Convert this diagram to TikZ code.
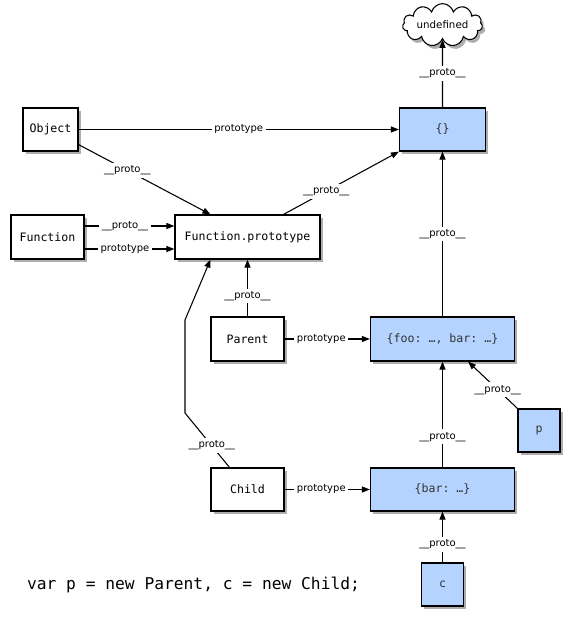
\documentclass[tikz,border=0pt]{standalone}
\usepackage{fontspec}
\setmainfont{DejaVu Sans}
\setmonofont{DejaVu Sans Mono}
\usetikzlibrary{shapes.symbols,shadows,arrows.meta}
\definecolor{objblue}{RGB}{180,211,255}
\tikzset{
  shad/.style={drop shadow={shadow xshift=2pt, shadow yshift=-2.5pt, opacity=0.45, fill=black!70}},
  box/.style={draw=black, line width=0.9pt, fill=white, shad, inner sep=0pt,
    font=\fontsize{8.7}{10}\ttfamily},
  obj/.style={box, fill=objblue, text=black!80},
  sz/.style 2 args={minimum width=#1*0.75pt, minimum height=#2*0.75pt},
  lbl/.style={fill=white, inner sep=2pt, font=\fontsize{7.5}{9}\selectfont},
  arr/.style={line width=0.8pt, -{Triangle[length=6pt,width=4.5pt]}},
}
\begin{document}
\begin{tikzpicture}[x=0.75pt,y=-0.75pt]
\useasboundingbox (0,0) rectangle (572,622);
% nodes
\node[cloud, cloud puffs=11, aspect=2.6, draw, fill=white, line width=0.8pt,
  minimum width=60pt, minimum height=24pt, inner sep=0pt, shad,
  font=\fontsize{7.7}{9}\selectfont] (undef) at (442.5,25) {undefined};
\node[box, sz={55}{43}] (object) at (50.5,129.5) {Object};
\node[obj, sz={86}{43}] (empty) at (442.5,129.5) {\{\}};
\node[box, sz={73}{44}] (function) at (47.5,237) {Function};
\node[box, sz={145}{44}] (fproto) at (247.5,237) {Function.prototype};
\node[box, sz={73}{44}] (parent) at (247.5,339) {Parent};
\node[obj, sz={144}{44}] (pproto) at (442.5,339) {\{foo: …, bar: …\}};
\node[obj, sz={42}{43}] (p) at (539,430.5) {p};
\node[box, sz={73}{43}] (child) at (247.5,489.5) {Child};
\node[obj, sz={144}{43}] (cproto) at (442.5,489.5) {\{bar: …\}};
\node[obj, sz={42}{43}] (c) at (442.5,584.5) {c};
\node[font=\fontsize{12.2}{14}\ttfamily, inner sep=0pt] (code) at (193.5,585) {var p = new Parent, c = new Child;};
% connectors
\draw[arr] (empty.north) -- node[lbl]{\_\_proto\_\_} (undef.south);
\draw[arr] (object.east) -- node[lbl]{prototype} (empty.west);
\draw[arr] ([yshift=5.25pt]object.south east) -- node[lbl,pos=0.37]{\_\_proto\_\_} ([xshift=-27.75pt]fproto.north);
\draw[arr] ([yshift=8.25pt]function.east) -- node[lbl,pos=0.45]{\_\_proto\_\_} ([yshift=8.25pt]fproto.west);
\draw[arr] ([yshift=-9pt]function.east) -- node[lbl,pos=0.45]{prototype} ([yshift=-9pt]fproto.west);
\draw[arr] ([xshift=27pt]fproto.north) -- node[lbl,pos=0.37]{\_\_proto\_\_} (empty.south west);
\draw[arr] (pproto.north) -- node[lbl]{\_\_proto\_\_} (empty.south);
\draw[arr] (parent.north) -- node[lbl,pos=0.36]{\_\_proto\_\_} (fproto.south);
\draw[arr] (parent.east) -- node[lbl,pos=0.43]{prototype} (pproto.west);
\draw[arr] (cproto.north) -- node[lbl,pos=0.29]{\_\_proto\_\_} (pproto.south);
\draw[arr] (p.north west) -- node[lbl,pos=0.4]{\_\_proto\_\_} ([xshift=-35.25pt]pproto.south east);
\draw[arr] (child.east) -- node[lbl,pos=0.43]{prototype} (cproto.west);
\draw[arr] (c.north) -- node[lbl,pos=0.35]{\_\_proto\_\_} (cproto.south);
\coordinate (k1) at (185,413);
\coordinate (k2) at (185,320);
\draw[arr] ([xshift=-13.5pt]child.north) -- node[lbl,pos=0.4]{\_\_proto\_\_} (k1) -- (k2) -- ([xshift=-27.75pt]fproto.south);
\end{tikzpicture}
\end{document}
